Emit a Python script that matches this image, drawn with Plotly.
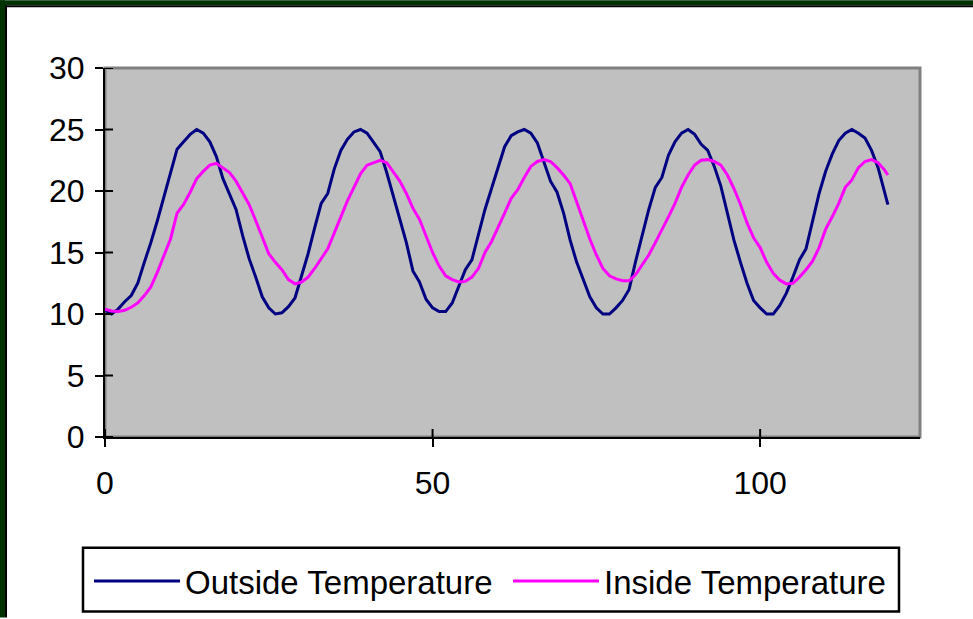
import plotly.graph_objects as go

# ---- data ----
time = list(range(120)) + [119.5]

outside_temperature = [
    10.3, 10.0, 10.4, 11.0, 11.5, 12.5, 14.2, 15.8, 17.6, 19.6, 21.6, 23.4, 24.0, 24.6, 25.0, 24.7, 24.0, 22.8, 21.0, 19.7, 18.5, 16.4, 14.5, 13.0, 11.4,
    10.5, 10.0, 10.1, 10.6, 11.3, 13.0, 14.9, 17.0, 19.0, 19.8, 21.8, 23.3, 24.2, 24.8, 25.0, 24.7, 24.0, 23.2, 21.5, 19.6, 17.8, 15.8, 13.5, 12.6, 11.2,
    10.5, 10.2, 10.2, 10.9, 12.2, 13.6, 14.4, 16.4, 18.5, 20.2, 22.0, 23.6, 24.5, 24.8, 25.0, 24.7, 23.9, 22.3, 20.8, 19.9, 18.2, 16.0, 14.2, 12.8, 11.4,
    10.5, 10.0, 10.0, 10.5, 11.1, 12.0, 14.3, 16.5, 18.5, 20.3, 21.1, 22.9, 24.0, 24.7, 25.0, 24.6, 23.8, 23.3, 22.0, 20.4, 18.2, 16.0, 14.2, 12.5, 11.1,
    10.5, 10.0, 10.0, 10.7, 11.7, 13.0, 14.4, 15.3, 17.5, 19.8, 21.6, 23.0, 24.1, 24.7, 25.0, 24.7, 24.3, 23.3, 21.9, 19.9,
    18.9,
]

inside_temperature = [
    10.4, 10.25, 10.2, 10.3, 10.55, 10.9, 11.5, 12.2, 13.4, 14.7, 16.1, 18.2, 18.9, 19.9, 21.0, 21.6, 22.1, 22.25, 21.9, 21.5, 20.8, 19.9, 18.9, 17.6, 16.3,
    14.9, 14.2, 13.6, 12.8, 12.45, 12.6, 13.0, 13.7, 14.5, 15.3, 16.6, 17.9, 19.2, 20.3, 21.4, 22.1, 22.3, 22.5, 22.3, 21.6, 20.8, 19.8, 18.6, 17.7, 16.3,
    15.0, 13.9, 13.1, 12.8, 12.6, 12.65, 13.0, 13.7, 15.0, 15.9, 17.0, 18.2, 19.4, 20.1, 21.1, 22.0, 22.4, 22.55, 22.4, 21.9, 21.3, 20.6, 19.1, 17.6, 16.1,
    14.8, 13.7, 13.1, 12.85, 12.7, 12.7, 13.2, 14.0, 14.8, 15.8, 16.8, 17.9, 19.0, 20.3, 21.3, 22.1, 22.5, 22.55, 22.4, 22.1, 21.3, 20.2, 18.9, 17.4, 16.2,
    15.4, 14.2, 13.3, 12.75, 12.45, 12.5, 13.0, 13.6, 14.3, 15.4, 16.9, 17.9, 19.0, 20.3, 20.9, 21.9, 22.4, 22.55, 22.3, 21.7,
    21.3,
]

series_names = ["Outside Temperature", "Inside Temperature"]
x_ticks = [0, 50, 100]
y_ticks = [0, 5, 10, 15, 20, 25, 30]

# ---- layout geometry (pixels) ----
W, H = 973, 619
L, R, T, B = 105, 920, 68, 438


def px(x):
    return (x - L) / (R - L)


def py(y):
    return (B - y) / (B - T)


FONT = "Liberation Sans, Arial, sans-serif"
XR = [0, 124.4]
YR = [0, 30]

fig = go.Figure()
fig.add_trace(go.Scatter(x=time, y=outside_temperature, mode="lines", name=series_names[0],
                         line=dict(color="#000080", width=3)))
fig.add_trace(go.Scatter(x=time, y=inside_temperature, mode="lines", name=series_names[1],
                         line=dict(color="#FF00FF", width=3)))

shapes = [
    # plot area border (grey top/right)
    dict(type="rect", xref="paper", yref="paper", x0=0, x1=1, y0=0, y1=1,
         line=dict(color="#808080", width=3), layer="below"),
    # legend box
    dict(type="rect", xref="paper", yref="paper", x0=px(83), x1=px(899), y0=py(549), y1=py(613),
         line=dict(color="black", width=2.5), fillcolor="white", layer="below"),
    # dark green frame top / left
    dict(type="rect", xref="paper", yref="paper", x0=px(0), x1=px(W), y0=py(0), y1=py(5),
         fillcolor="#003300", line=dict(width=0)),
    dict(type="rect", xref="paper", yref="paper", x0=px(0), x1=px(W), y0=py(5), y1=py(7),
         fillcolor="#000000", line=dict(width=0)),
    dict(type="rect", xref="paper", yref="paper", x0=px(0), x1=px(5), y0=py(0), y1=py(H),
         fillcolor="#003300", line=dict(width=0)),
    dict(type="rect", xref="paper", yref="paper", x0=px(5), x1=px(7), y0=py(5), y1=py(H),
         fillcolor="#000000", line=dict(width=0)),
]
# inner half of the crossing tick marks
for v in x_ticks:
    shapes.append(dict(type="line", xref="x", yref="paper", x0=v, x1=v, y0=0, y1=py(B - 8),
                       line=dict(color="black", width=2)))
for v in y_ticks:
    shapes.append(dict(type="line", xref="paper", yref="y", x0=0, x1=px(L + 8), y0=v, y1=v,
                       line=dict(color="black", width=2)))

axis_common = dict(showgrid=False, zeroline=False, linecolor="black", linewidth=2,
                   tickcolor="black", tickwidth=2, ticklen=8)

fig.update_layout(
    width=W, height=H,
    margin=dict(l=L, r=W - R, t=T, b=H - B, pad=0),
    paper_bgcolor="white", plot_bgcolor="#C0C0C0",
    font=dict(family=FONT, size=32, color="black"),
    xaxis=dict(range=XR, tickvals=x_ticks, ticks="outside", showline=True,
               ticklabelstandoff=9, **axis_common),
    yaxis=dict(range=YR, tickvals=y_ticks, ticks="outside", showline=True,
               ticklabelstandoff=4, **axis_common),
    showlegend=True,
    legend=dict(orientation="h", x=px(89), y=py(581), xanchor="left", yanchor="middle",
                borderwidth=0, bgcolor="rgba(0,0,0,0)", entrywidth=318, entrywidthmode="pixels",
                itemwidth=86, font=dict(family=FONT, size=33, color="black")),
    shapes=shapes,
)

fig.write_html("out.html")
